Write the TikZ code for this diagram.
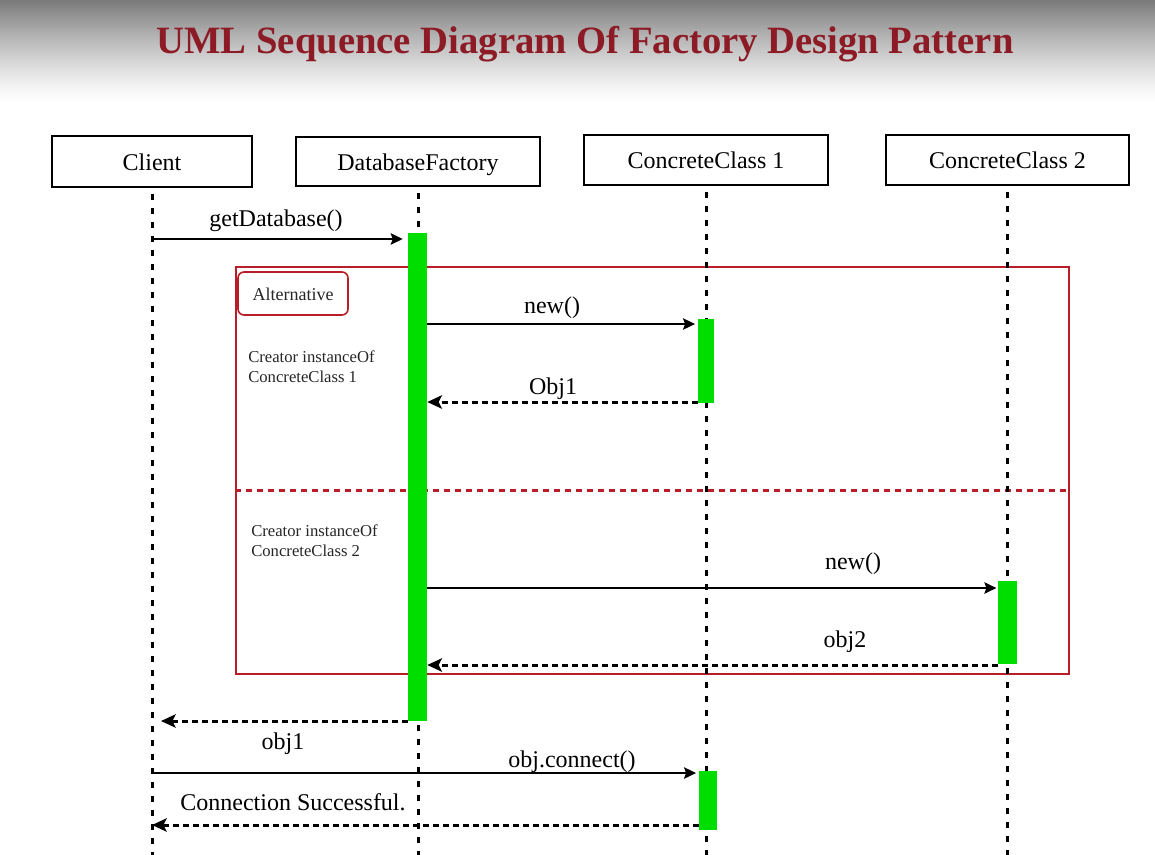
\documentclass[tikz,border=0pt]{standalone}
\usepackage{fontspec}
\setmainfont{Liberation Serif}
\usetikzlibrary{arrows.meta}
\definecolor{titlered}{RGB}{140,27,38}
\definecolor{framered}{RGB}{185,30,40}
\definecolor{actgreen}{RGB}{0,222,0}
\begin{document}
\begin{tikzpicture}[x=0.75pt,y=-0.75pt,
  actor/.style={draw=black,line width=1.5pt,fill=white,inner sep=0pt,text height=14pt,text depth=1pt,font=\fontsize{18}{20}\selectfont},
  lifeline/.style={line width=2.25pt,dash pattern=on 4.5pt off 6pt,shorten <=4.5pt},
  act/.style={fill=actgreen,draw=none,inner sep=0pt,anchor=north},
  msg/.style={line width=1.5pt,-{Stealth[length=9pt,width=8.5pt,inset=1.5pt]}},
  ret/.style={line width=2.25pt,dash pattern=on 4.5pt off 3pt,-{Stealth[length=11pt,width=10pt,inset=2.5pt]}},
  lbl/.style={anchor=base,inner sep=0pt,font=\fontsize{18}{20}\selectfont},
  small/.style={anchor=base west,inner sep=0pt,font=\fontsize{12.5}{15}\selectfont,text=black!85},
]
\useasboundingbox (0,0) rectangle (1155,854);
\clip (0,0) rectangle (1155,854);
\fill[white] (0,0) rectangle (1155,854);
\foreach \i in {0,2,...,100} {
  \pgfmathsetmacro\shadeval{52*(1-\i/102)^1.3}
  \fill[black!\shadeval] (0,\i) rectangle (1155,\i+2.6);
}

\node[anchor=base,inner sep=0pt,font=\bfseries\fontsize{29}{32}\selectfont,text=titlered] (title) at (585,53) {UML Sequence Diagram Of Factory Design Pattern};

% alternative frame
\node[draw=framered,line width=1.2pt,minimum width=624.75pt,minimum height=305.25pt,inner sep=0pt] (alt) at (652.5,470.5) {};
\draw[framered,line width=2.25pt,dash pattern=on 4.5pt off 3.75pt] (alt.west |- 0,490) -- (alt.east |- 0,490);
\node[draw=framered,line width=1.2pt,rounded corners=4.5pt,minimum width=82.5pt,minimum height=32.25pt,inner sep=0pt,font=\fontsize{13.5}{15}\selectfont,text=black!85,text height=10pt,text depth=0pt] (altlbl) at (293,293.5) {Alternative};
\node[small] (cr1a) at (248,362) {Creator instanceOf};
\node[small] (cr1b) at (248,382) {ConcreteClass 1};
\node[small] (cr2a) at (251,536) {Creator instanceOf};
\node[small] (cr2b) at (251,556) {ConcreteClass 2};

% actors
\node[actor,minimum width=150pt,minimum height=38.25pt] (client) at (152,161.5) {Client};
\node[actor,minimum width=183pt,minimum height=36.75pt] (dbf) at (418,161.5) {DatabaseFactory};
\node[actor,minimum width=183pt,minimum height=37.5pt] (cc1) at (706,160) {ConcreteClass 1};
\node[actor,minimum width=182.25pt,minimum height=37.5pt] (cc2) at (1007.5,160) {ConcreteClass 2};

% lifelines
\draw[lifeline] (client.south) -- (client.south |- 0,856);
\draw[lifeline] (dbf.south) -- (dbf.south |- 0,856);
\draw[lifeline] (cc1.south) -- (cc1.south |- 0,856);
\draw[lifeline] (cc2.south) -- (cc2.south |- 0,856);

% activations
\node[act,minimum width=14.25pt,minimum height=366pt] (actDB) at (417.5,233) {};
\node[act,minimum width=12pt,minimum height=63pt] (actC1) at (706,319) {};
\node[act,minimum width=14.25pt,minimum height=62.25pt] (actC2) at (1007.5,581) {};
\node[act,minimum width=13.5pt,minimum height=44.25pt] (actC1b) at (708,771) {};

% messages
\draw[msg,shorten >=3.75pt] (client.south |- 0,239) -- (actDB.west |- 0,239);
\draw[msg,shorten >=2pt] (actDB.east |- 0,324) -- (actC1.west |- 0,324);
\draw[ret] (actC1.west |- 0,402) -- (actDB.east |- 0,402);
\draw[msg,shorten >=1pt] (actDB.east |- 0,588) -- (actC2.west |- 0,588);
\draw[ret] (actC2.west |- 0,665) -- (actDB.east |- 0,665);
\draw[ret,shorten >=6.75pt] (actDB.west |- 0,721) -- (client.south |- 0,721);
\draw[msg,shorten >=2pt] (client.south |- 0,773) -- (actC1b.west |- 0,773);
\draw[ret] (actC1b.west |- 0,825) -- (client.south |- 0,825);

% labels
\node[lbl] (l1) at (276,226) {getDatabase()};
\node[lbl] (l2) at (552,313) {new()};
\node[lbl] (l3) at (553,394) {Obj1};
\node[lbl] (l4) at (853,569) {new()};
\node[lbl] (l5) at (845,647) {obj2};
\node[lbl] (l6) at (283,749) {obj1};
\node[lbl] (l7) at (572,767) {obj.connect()};
\node[lbl] (l8) at (293,810) {Connection Successful.};
\end{tikzpicture}
\end{document}
